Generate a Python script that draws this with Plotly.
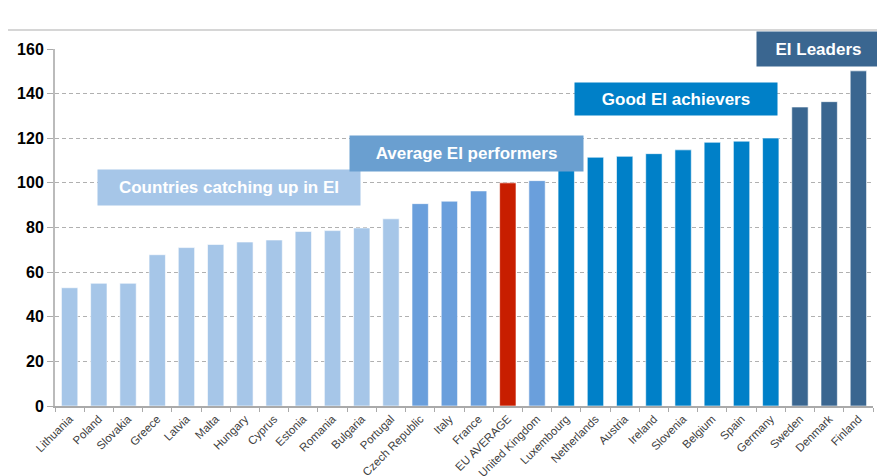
import plotly.graph_objects as go

countries = ["Lithuania", "Poland", "Slovakia", "Greece", "Latvia", "Malta", "Hungary", "Cyprus",
             "Estonia", "Romania", "Bulgaria", "Portugal", "Czech Republic", "Italy", "France",
             "EU AVERAGE", "United Kingdom", "Luxembourg", "Netherlands", "Austria", "Ireland",
             "Slovenia", "Belgium", "Spain", "Germany", "Sweden", "Denmark", "Finland"]
values = [53, 55, 55, 67.8, 71, 72.4, 73.5, 74.4,
          78.2, 78.6, 79.8, 83.9, 90.7, 91.8, 96.4,
          100, 101, 108.5, 111.5, 111.9, 113.1,
          114.8, 118.2, 118.7, 120.1, 134, 136.4, 150.2]
groups = ["catch"] * 12 + ["avg"] * 3 + ["eu"] + ["avg"] + ["good"] * 8 + ["lead"] * 3

group_colors = {"catch": "#a6c6e8", "avg": "#6a9fdc", "eu": "#c81e00",
                "good": "#0080c8", "lead": "#3a6690"}

labels = ["Countries catching up in EI", "Average EI performers", "Good EI achievers", "EI Leaders"]
label_colors = ["#a6c6e8", "#6a9fd0", "#0080c8", "#3a6690"]

fig = go.Figure()
fig.add_trace(go.Bar(
    x=countries, y=values,
    marker=dict(color=[group_colors[g] for g in groups],
                line=dict(color="rgba(255,255,255,0.6)", width=1)),
    width=0.56,
))

# label boxes (x in category index, y in paper units)
boxes = [(5.45, 0.613, 262, 35), (13.57, 0.759, 233, 35), (20.76, 0.908, 202, 32), (25.63, 1.050, 123, 34)]
for (bx, by, bw, bh), txt, col in zip(boxes, labels, label_colors):
    fig.add_annotation(x=bx, y=by, xref="x", yref="paper", text=txt, showarrow=False,
                       bgcolor=col, width=bw, height=bh, borderpad=0,
                       font=dict(family="Liberation Sans, Arial", size=17, color="white", weight="bold"))

fig.add_shape(type="line", xref="paper", yref="paper", x0=-0.07, x1=1.02, y0=1.053, y1=1.053,
              line=dict(color="#c8c8c8", width=1.5), layer="below")

fig.update_layout(
    width=877, height=468,
    margin=dict(l=47, r=12, t=41, b=70),
    plot_bgcolor="white", paper_bgcolor="white",
    showlegend=False,
    xaxis=dict(type="category", tickangle=-45, tickson="boundaries", ticks="outside", ticklen=4,
               tickcolor="#aaaaaa", showline=True, linecolor="#aaaaaa", linewidth=1.5,
               showgrid=False, range=[-0.5, 27.5], automargin=False,
               tickfont=dict(family="Liberation Sans, Arial", size=11.5, color="#404040")),
    yaxis=dict(range=[0, 160], dtick=20, showgrid=True, gridcolor="#b0b0b0", griddash="4px,3px",
               gridwidth=1, zeroline=False, showline=True, linecolor="#bbbbbb", linewidth=2,
               ticks="outside", ticklen=6, tickcolor="#aaaaaa", automargin=False,
               tickfont=dict(family="Liberation Sans, Arial", size=16, color="black", weight="bold")),
)

fig.write_html("out.html")
